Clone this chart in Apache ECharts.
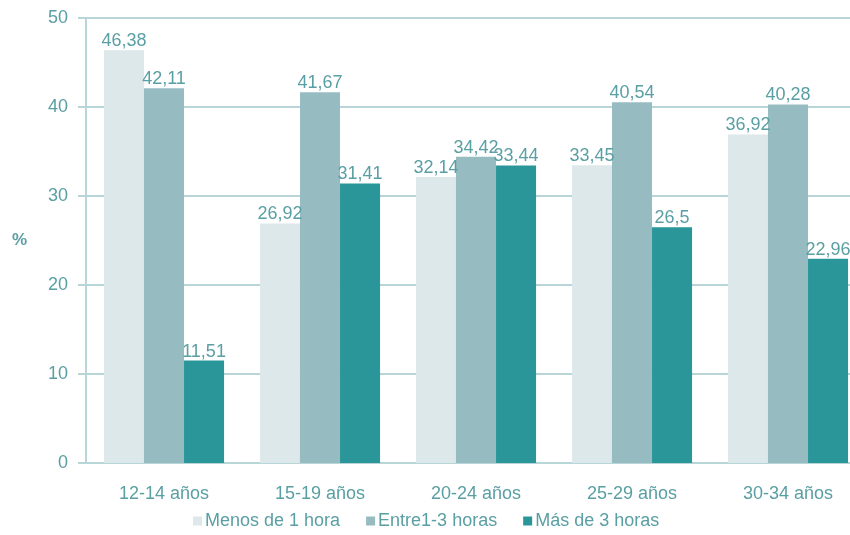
<!DOCTYPE html>
<html><head><meta charset="utf-8">
<script src="https://cdn.jsdelivr.net/npm/echarts@6/dist/echarts.min.js"></script>
<style>html,body{margin:0;padding:0;background:#fff;overflow:hidden;width:850px;height:535px}#c{width:880px;height:535px}</style>
</head><body><div id="c"></div>
<script>
const categories = ['12-14 años','15-19 años','20-24 años','25-29 años','30-34 años'];
const seriesNames = ['Menos de 1 hora','Entre1-3 horas','Más de 3 horas'];
const menos1 = [46.38, 26.92, 32.14, 33.45, 36.92];
const entre13 = [42.11, 41.67, 34.42, 40.54, 40.28];
const mas3 = [11.51, 31.41, 33.44, 26.5, 22.96];
const colors = ['#dce8ea', '#96bcc2', '#2a9699'];
const txt = '#5a9fa3';
const line = '#b8d5d7';
const font = 'Liberation Sans, Arial, sans-serif';
const fmt = p => String(p.value).replace('.', ',');
const mk = (name, data, color) => ({
  name, type: 'bar', data, barGap: '0%', barCategoryGap: '23%',
  itemStyle: { color },
  label: { show: true, position: 'top', distance: 0, formatter: fmt, color: txt, fontSize: 18, fontFamily: font }
});
const chart = echarts.init(document.getElementById('c'));
chart.setOption({
  animation: false,
  grid: { left: 86, width: 780, top: 18, height: 445, containLabel: false },
  legend: {
    bottom: 0, left: 188, itemWidth: 9, itemHeight: 9, itemGap: 26, icon: 'rect',
    textStyle: { color: txt, fontSize: 18, fontFamily: font, padding: [0, 0, 0, -2] },
    data: seriesNames
  },
  xAxis: {
    type: 'category', data: categories,
    axisLine: { lineStyle: { color: line, width: 2 } },
    axisTick: { show: false },
    axisLabel: { color: txt, fontSize: 18, fontFamily: font, margin: 22 }
  },
  yAxis: {
    type: 'value', min: 0, max: 50, interval: 10,
    name: '%', nameLocation: 'middle', nameGap: 59, nameRotate: 0,
    nameTextStyle: { color: txt, fontSize: 17, fontWeight: 'bold', fontFamily: font },
    axisLine: { show: true, lineStyle: { color: line, width: 2 } },
    axisTick: { show: true, length: 8, lineStyle: { color: line, width: 2 } },
    axisLabel: { color: txt, fontSize: 18, fontFamily: font, margin: 18 },
    splitLine: { show: true, lineStyle: { color: line, width: 2 } }
  },
  series: [mk(seriesNames[0], menos1, colors[0]), mk(seriesNames[1], entre13, colors[1]), mk(seriesNames[2], mas3, colors[2])]
});
</script></body></html>
